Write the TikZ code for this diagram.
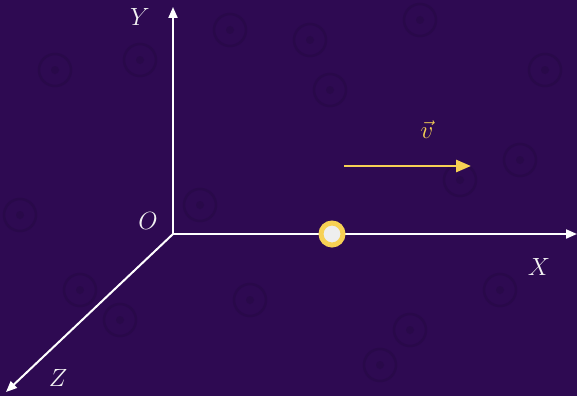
\documentclass[tikz,border=0pt]{standalone}
\usetikzlibrary{arrows.meta}
\definecolor{bg}{HTML}{2E0A52}
\definecolor{swirl}{HTML}{29094A}
\definecolor{vy}{HTML}{F7D154}
\definecolor{ptin}{HTML}{EEEEEE}
\tikzset{
  axis/.style={draw=white, line width=2pt, -{Triangle[length=11pt,width=9pt]}},
  axlabel/.style={text=white!90!gray, font=\fontsize{25}{30}\selectfont},
  vec/.style={draw=vy, line width=2.8pt, -{Triangle[length=15pt,width=12pt]}},
  swirlsty/.style={draw=swirl, line width=2.5pt},
}
\begin{document}
\begin{tikzpicture}[x=1pt,y=-1pt]
\fill[bg] (0,0) rectangle (577,396);
\useasboundingbox (0,0) rectangle (577,396);
% faint background swirls
\foreach \cx/\cy in {55/70,230/30,310/40,420/20,545/70,140/60,20/215,80/290,200/205,460/180,520/160,250/300,410/330,500/290,330/90,380/365,120/320}{
  \draw[swirlsty] (\cx,\cy) circle (16);
  \fill[swirl] (\cx,\cy) circle (4);
}
\coordinate (O) at (173,234);
\coordinate (Xe) at (577,234);
\coordinate (Ye) at (173,7);
\coordinate (Ze) at (6,392);
\draw[axis] (O) -- (Xe);
\draw[axis] (O) -- (Ye);
\draw[axis] (O) -- (Ze);
\node[axlabel] (ly) at (140,17) {$Y$};
\node[axlabel] (lo) at (148,221) {$O$};
\node[axlabel] (lx) at (539,267) {$X$};
\node[axlabel] (lz) at (58,378) {$Z$};
\node[circle, fill=ptin, draw=vy, line width=5pt, minimum size=22pt, inner sep=0pt] (p) at (332,234) {};
\coordinate (va) at (344,166);
\coordinate (vb) at (471,166);
\draw[vec] (va) -- (vb);
\node[text=vy, font=\fontsize{27}{32}\selectfont] (lv) at (427,130) {$\vec{v}$};
\end{tikzpicture}
\end{document}
